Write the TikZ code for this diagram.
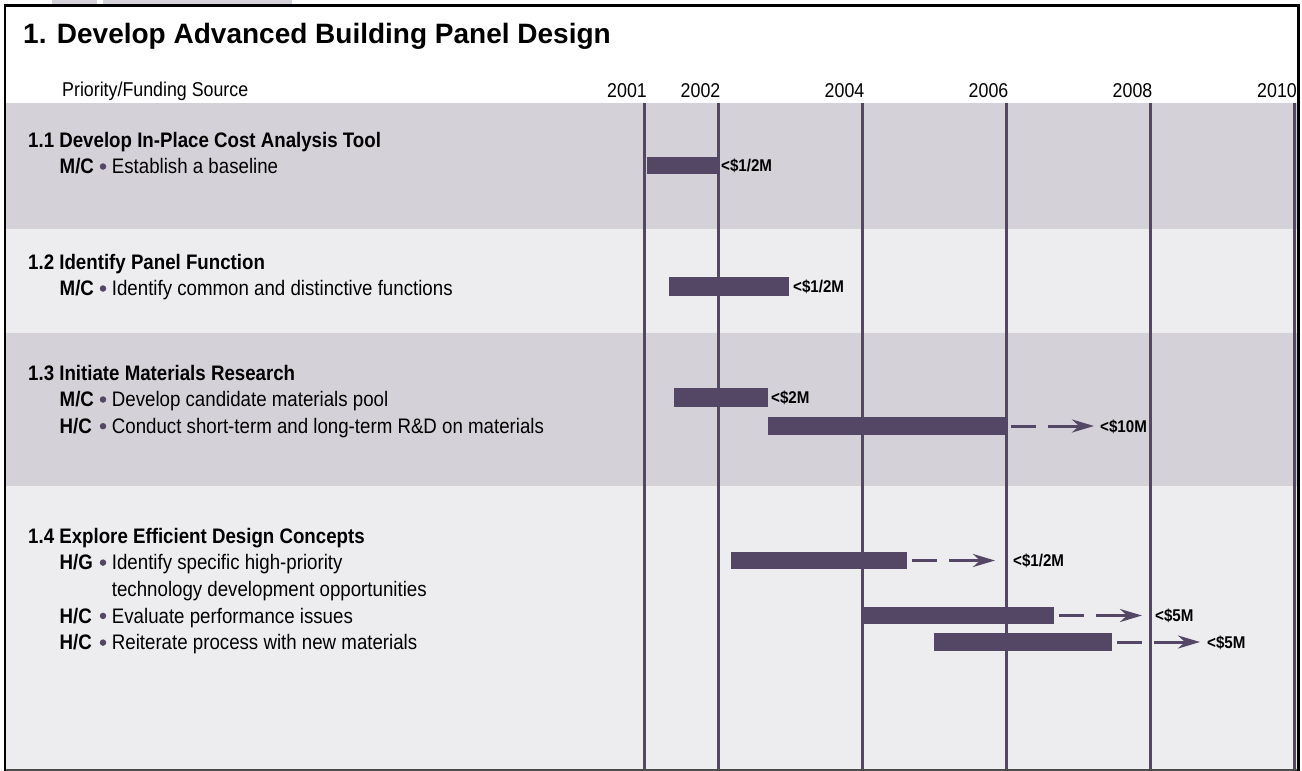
\documentclass[tikz,border=0pt]{standalone}
\usepackage{fontspec}
\setmainfont{Liberation Sans}
\newfontfamily\cond[FakeStretch=0.89]{Liberation Sans}
\usetikzlibrary{arrows.meta}
\definecolor{barc}{RGB}{84,71,101}
\definecolor{banddark}{RGB}{212,209,217}
\definecolor{bandlight}{RGB}{237,237,240}
\definecolor{tabc}{RGB}{212,209,217}
\begin{document}
\begin{tikzpicture}[x=1pt,y=-1pt,
 bar/.style={fill=barc, inner sep=0, outer sep=0, anchor=north west},
 cost/.style={font=\cond\bfseries\fontsize{17}{20}\selectfont, inner sep=0, anchor=base west},
 sect/.style={font=\cond\bfseries\fontsize{21}{25}\selectfont, inner sep=0, anchor=base west},
 item/.style={font=\cond\fontsize{21}{25}\selectfont, inner sep=0, anchor=base west},
 prio/.style={font=\cond\bfseries\fontsize{21}{25}\selectfont, inner sep=0, anchor=base west},
 bul/.style={circle, fill=barc, inner sep=0, minimum size=6.5pt},
 yr/.style={font=\cond\fontsize{20}{24}\selectfont, inner sep=0, anchor=base east},
 hdr/.style={font=\cond\fontsize{20}{24}\selectfont, inner sep=0, anchor=base west},
 yline/.style={draw=barc, line width=3pt},
 dashseg/.style={draw=barc, line width=3pt},
 arrseg/.style={draw=barc, line width=3pt, -{Stealth[length=22pt,width=13pt,inset=7pt]}},
]
\useasboundingbox (0,0) rectangle (1302,771);
% tabs
\fill[tabc] (52,0) rectangle (97,4.5);
\fill[tabc] (103,0) rectangle (292,4.5);
% bands
\fill[banddark] (6,103) rectangle (1297,229);
\fill[bandlight] (6,229) rectangle (1297,333);
\fill[banddark] (6,333) rectangle (1297,486);
\fill[bandlight] (6,486) rectangle (1297,771);
% year lines
\coordinate (bot) at (0,770);
\foreach \n/\x in {2001/644.5,2002/718,2004/862,2006/1006,2008/1150,2010/1294.5}{
  \coordinate (y\n) at (\x,103);
  \draw[yline] (y\n) -- (y\n |- bot);
  \node[yr] (t\n) at (\x+2.5,97) {\n};
}
% title and header
\node[font=\bfseries\fontsize{28}{32}\selectfont, anchor=base west, inner sep=0] (title) at (23,43.5) {1. Develop Advanced Building Panel Design};
\node[hdr] (hd) at (62,96) {Priority/Funding Source};
% 1.1
\node[sect] (s11) at (28,147) {1.1 Develop In-Place Cost Analysis Tool};
\node[prio] (p11) at (59.5,173.5) {M/C};
\node[bul] (u11) at (103,166.5) {};
\node[item] (i11) at (111.7,173.5) {Establish a baseline};
% 1.2
\node[sect] (s12) at (28,269) {1.2 Identify Panel Function};
\node[prio] (p12) at (59.5,295.5) {M/C};
\node[bul] (u12) at (103,288.5) {};
\node[item] (i12) at (111.7,295.5) {Identify common and distinctive functions};
% 1.3
\node[sect] (s13) at (28,380) {1.3 Initiate Materials Research};
\node[prio] (p13a) at (59.5,406.7) {M/C};
\node[bul] (u13a) at (103,399.5) {};
\node[item] (i13a) at (111.7,406.7) {Develop candidate materials pool};
\node[prio] (p13b) at (59.5,433.3) {H/C};
\node[bul] (u13b) at (103,426.2) {};
\node[item] (i13b) at (111.7,433.3) {Conduct short-term and long-term R\&D on materials};
% 1.4
\node[sect] (s14) at (28,543) {1.4 Explore Efficient Design Concepts};
\node[prio] (p14a) at (59.5,569.7) {H/G};
\node[bul] (u14a) at (103,562.6) {};
\node[item] (i14a) at (111.7,569.7) {Identify specific high-priority};
\node[item] (i14a2) at (111.7,596.3) {technology development opportunities};
\node[prio] (p14b) at (59.5,623) {H/C};
\node[bul] (u14b) at (103,615.9) {};
\node[item] (i14b) at (111.7,623) {Evaluate performance issues};
\node[prio] (p14c) at (59.5,649.7) {H/C};
\node[bul] (u14c) at (103,642.6) {};
\node[item] (i14c) at (111.7,649.7) {Reiterate process with new materials};
% bars
\node[bar, minimum width=71pt, minimum height=17pt] (b11) at (647,157) {};
\node[bar, minimum width=120pt, minimum height=19pt] (b12) at (669,277) {};
\node[bar, minimum width=94pt, minimum height=19pt] (b13a) at (674,388) {};
\node[bar, minimum width=238pt, minimum height=18pt] (b13b) at (768,417) {};
\node[bar, minimum width=176pt, minimum height=17pt] (b14a) at (731,552) {};
\node[bar, minimum width=192pt, minimum height=17pt] (b14b) at (862,607) {};
\node[bar, minimum width=178pt, minimum height=18pt] (b14c) at (934,633) {};
% cost labels on bars
\node[cost] (c11) at ([xshift=3pt,yshift=-6pt]b11.east) {<\$1/2M};
\node[cost] (c12) at ([xshift=4pt,yshift=-6pt]b12.east) {<\$1/2M};
\node[cost] (c13a) at ([xshift=3pt,yshift=-6pt]b13a.east) {<\$2M};
% dashed arrows
\foreach \b/\lx/\lt in {b13b/1100/10M,b14a/1013/1\slash 2M,b14b/1155/5M,b14c/1207/5M}{
  \coordinate (\b d1) at ([xshift=5pt]\b.east);
  \coordinate (\b d2) at ([xshift=30pt]\b.east);
  \coordinate (\b a1) at ([xshift=42pt]\b.east);
  \coordinate (\b a2) at ([xshift=88pt]\b.east);
  \draw[dashseg] (\b d1) -- (\b d2);
  \draw[arrseg] (\b a1) -- (\b a2);
  \node[cost] (\b lab) at ([yshift=-6pt]\lx,0 |- \b.east) {<\$\lt};
}
% border
\draw[black!70, line width=1.5pt] (5,770) -- (1298.5,770);
\draw[black, line width=2.7pt] (5,771) -- (5,5.3) -- (1298.5,5.3) -- (1298.5,771);
\end{tikzpicture}
\end{document}
